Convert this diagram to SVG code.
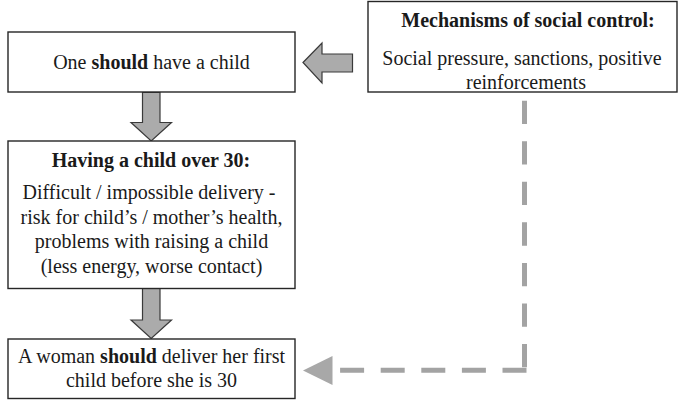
<svg xmlns="http://www.w3.org/2000/svg" width="679" height="400" viewBox="0 0 679 400">
<style>
.box{fill:#ffffff;stroke:#262626;stroke-width:1.4}
.blk{fill:#ababab;stroke:#3a3a3a;stroke-width:1.2;stroke-linejoin:miter}
.t{font-family:"Liberation Serif","Times New Roman",serif;font-size:20px;fill:#1a1a1a;text-anchor:middle}
.b{font-weight:bold}
.dash{fill:none;stroke:#a3a3a3;stroke-width:5}
</style>
<rect width="679" height="400" fill="#ffffff"/>
<g id="connectors">
<polygon class="blk" points="303,62.5 322,43 322,54 352.5,54 352.5,72 322,72 322,83"/>
<polygon class="blk" points="142.5,92.5 160,92.5 160,122.5 171.5,122.5 151.2,141 131,122.5 142.5,122.5"/>
<polygon class="blk" points="142.5,288.5 160,288.5 160,320 171.5,320 151.2,338.5 131,320 142.5,320"/>
<line class="dash" x1="524.5" y1="100.7" x2="524.5" y2="370.3" stroke-dasharray="23.3 17.25"/>
<line class="dash" x1="526.5" y1="370.3" x2="338" y2="370.3" stroke-dasharray="24 16.6"/>
<polygon points="303,370.5 332.5,356 332.5,385" fill="#a8a8a8"/>
</g>
<g id="node-should-child">
<rect class="box" x="8" y="32" width="287" height="60"/>
<text class="t" x="151.5" y="69">One <tspan class="b">should</tspan> have a child</text>
</g>
<g id="node-mechanisms">
<rect class="box" x="368" y="1.5" width="309" height="90.5"/>
<text class="t b" x="528" y="27">Mechanisms of social control:</text>
<text class="t" x="522" y="64.5">Social pressure, sanctions, positive</text>
<text class="t" x="526" y="88.5">reinforcements</text>
</g>
<g id="node-over-30">
<rect class="box" x="8" y="141" width="287" height="147.5"/>
<text class="t b" x="151" y="166.5">Having a child over 30:</text>
<text class="t" x="149" y="199">Difficult / impossible delivery -</text>
<text class="t" x="151.5" y="223.7">risk for child’s / mother’s health,</text>
<text class="t" x="151.5" y="248.4">problems with raising a child</text>
<text class="t" x="151.5" y="273.1">(less energy, worse contact)</text>
</g>
<g id="node-before-30">
<rect class="box" x="8" y="339" width="287" height="59.5"/>
<text class="t" x="151.5" y="363">A woman <tspan class="b">should</tspan> deliver her first</text>
<text class="t" x="151.5" y="387">child before she is 30</text>
</g>
</svg>
